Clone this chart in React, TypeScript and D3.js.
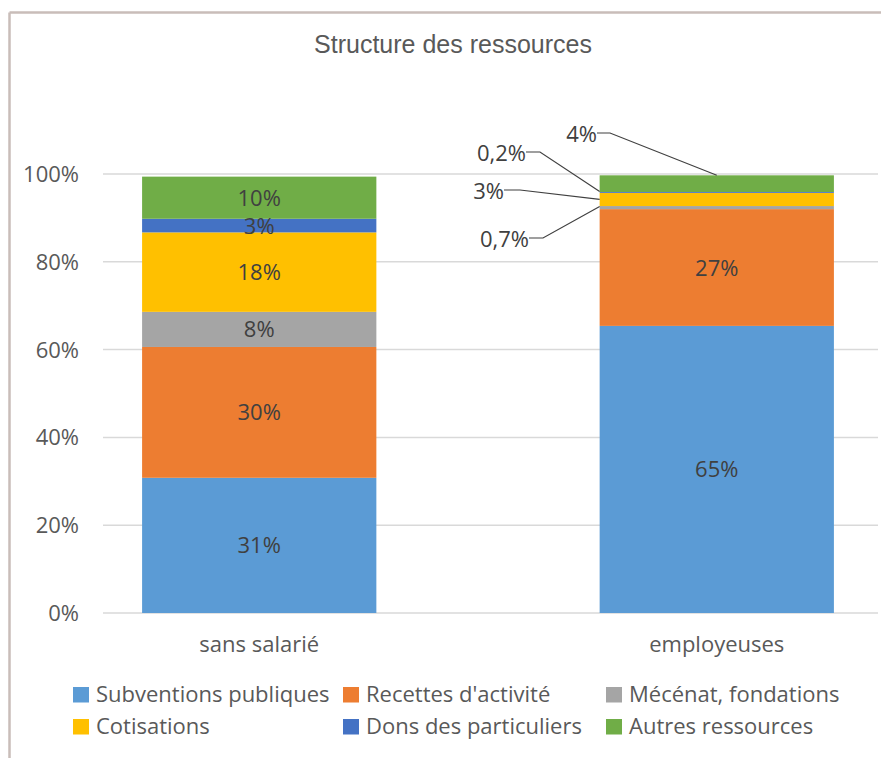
import React, { useEffect, useRef } from 'react';
import * as d3 from 'd3';

// categories and series (values in %)
const categories = ['sans salarié', 'employeuses'];
const seriesNames = [
  'Subventions publiques',
  "Recettes d'activité",
  'Mécénat, fondations',
  'Cotisations',
  'Dons des particuliers',
  'Autres ressources',
];
const seriesColors = ['#5b9bd5', '#ed7d31', '#a5a5a5', '#ffc000', '#4472c4', '#70ad47'];
const sansSalarie = [30.8, 29.8, 8.0, 18.1, 3.1, 9.6];
const employeuses = [65.4, 26.6, 0.7, 3.0, 0.2, 3.8];
const sansSalarieLabels = ['31%', '30%', '8%', '18%', '3%', '10%'];
const employeusesLabels = ['65%', '27%', '0,7%', '3%', '0,2%', '4%'];
const yTicks = [0, 20, 40, 60, 80, 100];

const W = 881;
const H = 758;
const font = "'Open Sans', Calibri, sans-serif";
const fs = 22;

const App = () => {
  const svgRef = useRef<SVGSVGElement>(null);

  useEffect(() => {
    const svg = d3.select(svgRef.current);
    svg.selectAll('*').remove();

    // frame (only top and left edges are visible)
    svg.append('line').attr('x1', 9.5).attr('x2', W).attr('y1', 12.5).attr('y2', 12.5)
      .attr('stroke', '#c9bdb9').attr('stroke-width', 2.5);
    svg.append('line').attr('x1', 9.5).attr('x2', 9.5).attr('y1', 12.5).attr('y2', H)
      .attr('stroke', '#c9bdb9').attr('stroke-width', 2.5);

    svg.append('text').text('Structure des ressources')
      .attr('x', 453).attr('y', 53).attr('text-anchor', 'middle')
      .attr('font-family', "'Liberation Sans', Arial, sans-serif").attr('font-size', 25)
      .attr('fill', '#595959');

    const y = d3.scaleLinear().domain([0, 100]).range([613, 174]);
    const x = d3.scaleBand().domain(categories).range([100, 876])
      .paddingInner(0.488).paddingOuter(0.092);

    // grid
    svg.append('g').selectAll('line').data(yTicks).join('line')
      .attr('x1', 103).attr('x2', 878)
      .attr('y1', d => y(d)).attr('y2', d => y(d))
      .attr('stroke', '#d9d9d9').attr('stroke-width', 1.5);

    svg.append('g').selectAll('text').data(yTicks).join('text')
      .text(d => d + '%')
      .attr('x', 79).attr('y', d => y(d) + 8)
      .attr('text-anchor', 'end')
      .attr('font-family', font).attr('font-size', fs).attr('fill', '#595959');

    const table = [sansSalarie, employeuses];
    const labels = [sansSalarieLabels, employeusesLabels];

    table.forEach((vals, i) => {
      const stacked = d3.stack<number[]>().keys(seriesNames.map((_, k) => String(k)))
        .value((d, key) => d[+key])([vals]);
      const left = x(categories[i]) as number;
      const bw = x.bandwidth();
      const g = svg.append('g');
      g.selectAll('rect').data(stacked).join('rect')
        .attr('x', left).attr('width', bw)
        .attr('y', s => y(s[0][1])).attr('height', s => y(s[0][0]) - y(s[0][1]))
        .attr('fill', (_, k) => seriesColors[k]);

      stacked.forEach((s, k) => {
        const mid = y((s[0][0] + s[0][1]) / 2);
        if (i === 0 || k < 2) {
          g.append('text').text(labels[i][k])
            .attr('x', left + bw / 2).attr('y', mid + 8)
            .attr('text-anchor', 'middle')
            .attr('font-family', font).attr('font-size', fs).attr('fill', '#404040');
        }
      });

      if (i === 1) {
        // callouts for the thin segments
        const callouts = [
          { k: 2, tx: 529, ty: 238, ax: left, ay: y(stacked[2][0][1]) + 0.5, bend: 543 },
          { k: 3, tx: 504, ty: 190, ax: left, ay: y((stacked[3][0][0] + stacked[3][0][1]) / 2), bend: 520 },
          { k: 4, tx: 526, ty: 152, ax: left, ay: y(stacked[4][0][1]) - 0.5, bend: 540 },
          { k: 5, tx: 597, ty: 133, ax: left + bw / 2, ay: y(stacked[5][0][1]), bend: 610 },
        ];
        callouts.forEach(c => {
          g.append('polyline')
            .attr('points', `${c.tx},${c.ty} ${c.bend},${c.ty} ${c.ax},${c.ay}`)
            .attr('fill', 'none').attr('stroke', '#404040').attr('stroke-width', 1.2);
          g.append('text').text(labels[i][c.k])
            .attr('x', c.tx).attr('y', c.ty + 9)
            .attr('text-anchor', 'end')
            .attr('font-family', font).attr('font-size', fs).attr('fill', '#404040');
        });
      }

      svg.append('text').text(categories[i])
        .attr('x', left + bw / 2).attr('y', 652)
        .attr('text-anchor', 'middle')
        .attr('font-family', font).attr('font-size', fs).attr('fill', '#595959');
    });

    // legend
    const legX = [73, 343, 606];
    const leg = svg.append('g');
    seriesNames.forEach((name, k) => {
      const lx = legX[k % 3];
      const base = 702 + Math.floor(k / 3) * 32;
      leg.append('rect').attr('x', lx).attr('y', base - 15).attr('width', 16).attr('height', 15.5)
        .attr('fill', seriesColors[k]);
      leg.append('text').text(name)
        .attr('x', lx + 23).attr('y', base)
        .attr('font-family', font).attr('font-size', fs).attr('fill', '#595959');
    });
  }, []);

  return <svg ref={svgRef} width={W} height={H} style={{ position: 'absolute', left: 0, top: 0 }} />;
};

export default App;
